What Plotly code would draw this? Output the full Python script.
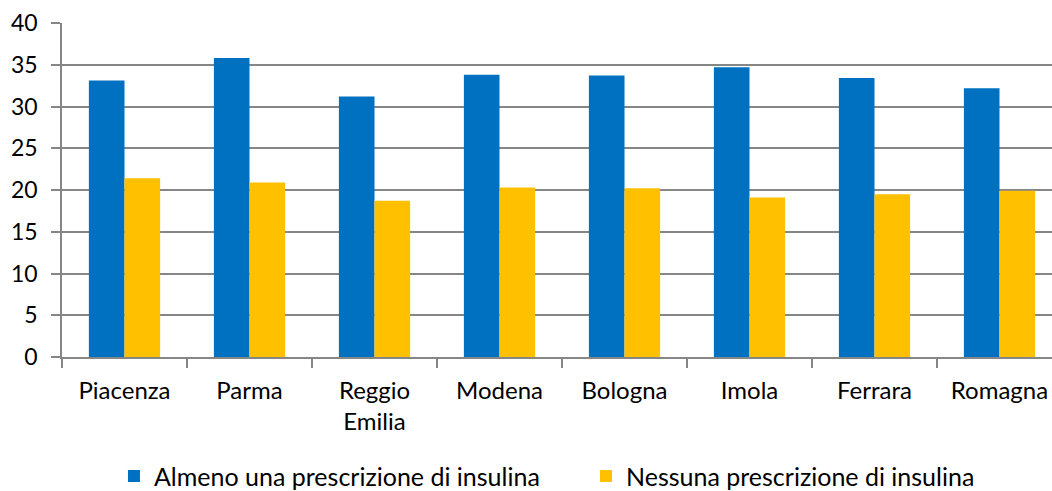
import plotly.graph_objects as go

categories = ["Piacenza", "Parma", "Reggio<br>Emilia", "Modena", "Bologna", "Imola", "Ferrara", "Romagna"]
almeno = [33.1, 35.8, 31.2, 33.8, 33.7, 34.7, 33.4, 32.2]
nessuna = [21.4, 20.9, 18.7, 20.3, 20.2, 19.1, 19.5, 19.9]
series_names = ["Almeno una prescrizione di insulina", "Nessuna prescrizione di insulina"]
colors = ["#0070C0", "#FFC000"]

FONT = "Lato, Carlito, sans-serif"

fig = go.Figure()
fig.add_trace(go.Bar(x=categories, y=almeno, name=series_names[0],
                     marker=dict(color=colors[0], line=dict(width=0))))
fig.add_trace(go.Bar(x=categories, y=nessuna, name=series_names[1],
                     marker=dict(color=colors[1], line=dict(width=0))))

fig.update_layout(
    width=1052, height=491,
    margin=dict(l=62, r=0, t=23, b=134, autoexpand=False),
    plot_bgcolor="white", paper_bgcolor="white",
    barmode="group", bargap=0.43, bargroupgap=0,
    font=dict(family=FONT, size=24, color="#000000"),
    showlegend=True,
    legend=dict(orientation="h", x=0.0525, xanchor="left", y=-0.357, yanchor="middle",
                font=dict(family=FONT, size=25, color="#000000"),
                entrywidth=427, entrywidthmode="pixels",
                itemwidth=30, traceorder="normal"),
)
fig.update_xaxes(
    range=[-0.5, 7.42], tickson="boundaries", ticks="outside", ticklen=9,
    tickcolor="#868686", tickwidth=1.5, showline=True, linecolor="#868686", linewidth=1.5,
    showgrid=False, tickangle=0, automargin=False, ticklabelstandoff=11,
    tickfont=dict(family=FONT, size=24, color="#000000"),
)
fig.update_yaxes(
    range=[0, 40], dtick=5, ticks="outside", ticklen=9, tickcolor="#868686", tickwidth=1.5,
    showline=True, linecolor="#868686", linewidth=1.5, automargin=False,
    showgrid=True, gridcolor="#868686", gridwidth=1.5, zeroline=False,
    ticklabelstandoff=9,
    tickfont=dict(family=FONT, size=23, color="#000000"),
)

fig.write_html("out.html", config={"displayModeBar": False},
               post_script="document.body.style.margin='0';document.body.style.overflow='hidden';")
